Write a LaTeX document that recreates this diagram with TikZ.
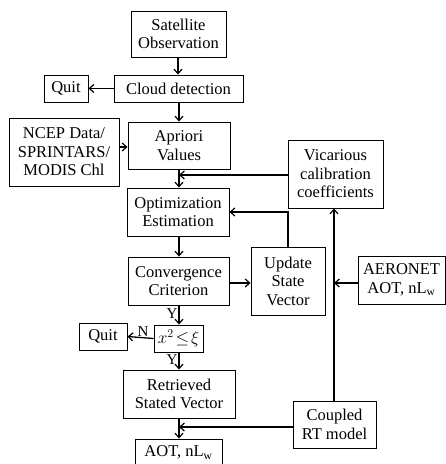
\documentclass[tikz,border=0pt]{standalone}
\usepackage{fontspec}
\setmainfont{Liberation Serif}
\usetikzlibrary{arrows.meta}
\begin{document}
\begin{tikzpicture}[x=1pt,y=-1pt,
  box/.style={draw,line width=0.9pt,align=center,inner sep=0pt,font=\fontsize{16.5}{18.5}\selectfont},
  arr/.style={line width=1.3pt,-{Straight Barb[length=4.5pt,width=8pt,line width=1.2pt]}},
  lbl/.style={font=\fontsize{15}{17}\selectfont,inner sep=1pt}]
\useasboundingbox (0,0) rectangle (446,464);
\node[box,minimum width=95pt,minimum height=46pt] (sat) at (178.5,34) {Satellite\\Observation};
\node[box,minimum width=129pt,minimum height=27pt] (cloud) at (178.5,88.5) {Cloud detection};
\node[box,minimum width=44pt,minimum height=27pt] (quit1) at (66,88.5) {Quit};
\node[box,minimum width=110pt,minimum height=68pt] (ncep) at (64,152) {NCEP Data/\\SPRINTARS/\\MODIS Chl};
\node[box,minimum width=102pt,minimum height=47pt] (apr) at (179,145.5) {Apriori\\Values};
\node[box,minimum width=95pt,minimum height=68pt] (vic) at (335.5,174) {Vicarious\\calibration\\coefficients};
\node[box,minimum width=102pt,minimum height=48pt] (opt) at (178,212) {Optimization\\Estimation};
\node[box,minimum width=101pt,minimum height=48pt] (conv) at (178.5,281) {Convergence\\Criterion};
\node[box,minimum width=74pt,minimum height=68pt] (upd) at (288,281) {Update\\State\\Vector};
\node[box,minimum width=87pt,minimum height=48pt] (aer) at (401.5,280) {AERONET\\AOT, nL\textsubscript{w}};
\node[box,minimum width=48pt,minimum height=27pt] (quit2) at (103,336.5) {Quit};
\node[box,minimum width=49pt,minimum height=27pt] (chi) at (178.5,338.5) {\fontsize{18}{20}\selectfont$x^{2}\!\leq\!\xi$};
\node[box,minimum width=112pt,minimum height=48pt] (ret) at (179,394) {Retrieved\\Stated Vector};
\node[box,minimum width=83pt,minimum height=47pt] (coup) at (334.5,424.5) {Coupled\\RT model};
\node[box,minimum width=87pt,minimum height=27pt] (aot) at (178.5,452.5) {AOT, nL\textsubscript{w}};
% coordinates
\coordinate (j1) at (179,175);
\coordinate (j2) at (334,283);
\coordinate (j3) at (179,427);
% connectors
\draw[arr] (sat.south -| 178,0) -- (cloud.north -| 178,0);
\draw[arr] (cloud.west) -- (quit1.east);
\draw[arr] (cloud.south -| 179,0) -- (apr.north -| 179,0);
\draw[arr] (ncep.east |- 0,147) -- (apr.west |- 0,147);
\draw[arr] (apr.south -| 179,0) -- (opt.north -| 179,0);
\draw[arr] (vic.west |- j1) -- (j1);
\draw[arr] (opt.south -| 179,0) -- (conv.north -| 179,0);
\draw[arr] (conv.east |- 0,283) -- (upd.west |- 0,283);
\draw[arr] (upd.north) |- (opt.east |- 0,212);
\draw[arr] (coup.north -| j2) -- (vic.south -| j2);
\draw[arr] (aer.west |- j2) -- (j2);
\draw[arr] (conv.south -| 179,0) -- node[lbl,left,pos=0.45]{Y} (chi.north -| 179,0);
\draw[arr] (chi.west) -- node[lbl,above,pos=0.4]{N} (quit2.east);
\draw[arr] (chi.south -| 179,0) -- node[lbl,left,pos=0.4]{Y} (ret.north -| 179,0);
\draw[arr] (ret.south -| 179,0) -- (aot.north -| 179,0);
\draw[arr] (coup.west |- j3) -- (j3);
\end{tikzpicture}
\end{document}
